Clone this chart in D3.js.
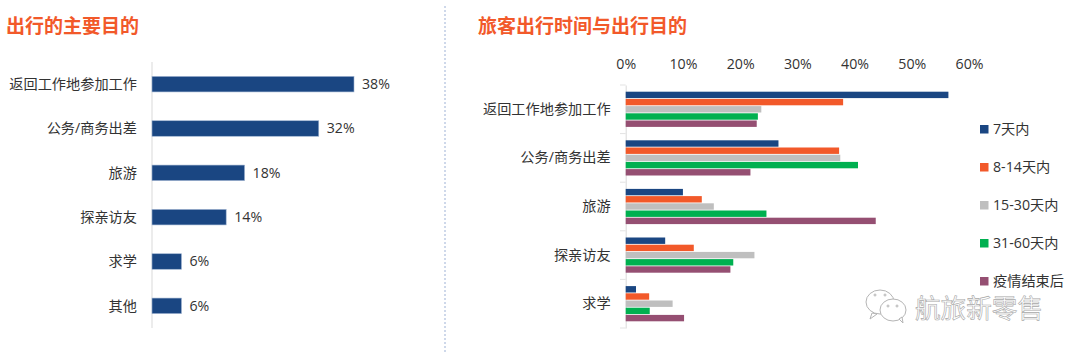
<!DOCTYPE html>
<html>
<head>
<meta charset="utf-8">
<script src="https://cdn.jsdelivr.net/npm/d3@7"></script>
<style>
  html, body { margin: 0; padding: 0; background: #fff; }
  svg { display: block; }
  text { font-family: "Open Sans", "Noto Sans CJK SC", sans-serif; fill: #333; }
  .title { font-family: "Noto Sans CJK SC", sans-serif; font-size: 19px; font-weight: 700; fill: #f2592a; }
  .label { font-size: 14.2px; }
</style>
</head>
<body>
<div id="container"></div>
<script>
'use strict';

const width = 1080, height = 355;

// left chart
const purposes = ["返回工作地参加工作", "公务/商务出差", "旅游", "探亲访友", "求学", "其他"];
const purposeShare = [38.4, 31.7, 17.6, 14.1, 5.6, 5.6];

// right chart
const groups = ["返回工作地参加工作", "公务/商务出差", "旅游", "探亲访友", "求学"];
const seriesNames = ["7天内", "8-14天内", "15-30天内", "31-60天内", "疫情结束后"];
const seriesColors = ["#1a4682", "#f2592a", "#bfbfbf", "#00b050", "#954f72"];
const within7 = [56.4, 26.7, 10.0, 6.9, 1.8];
const within14 = [38.0, 37.3, 13.3, 11.9, 4.1];
const within30 = [23.7, 37.5, 15.4, 22.5, 8.2];
const within60 = [23.1, 40.6, 24.6, 18.8, 4.2];
const afterEnd = [22.9, 21.8, 43.7, 18.3, 10.2];
const seriesValues = [within7, within14, within30, within60, afterEnd];
const xTicks = [0, 10, 20, 30, 40, 50, 60];

const svg = d3.select("#container")
  .append("svg")
  .attr("width", width)
  .attr("height", height);

svg.append("text").attr("class", "title").attr("x", 6).attr("y", 33).text("出行的主要目的");
svg.append("text").attr("class", "title").attr("x", 478).attr("y", 33).text("旅客出行时间与出行目的");

// separator
svg.append("line")
  .attr("x1", 445).attr("x2", 445)
  .attr("y1", 6).attr("y2", 352)
  .attr("stroke", "#aebfdc")
  .attr("stroke-width", 1.2)
  .attr("stroke-dasharray", "2 2");

/* ---- left chart ---- */
const xLeft = d3.scaleLinear().domain([0, 38.4]).range([152, 354]);
const yLeft = d3.scaleBand().domain(purposes).range([62, 328]).paddingInner(0.65).paddingOuter(0.325);

svg.append("line")
  .attr("x1", 152).attr("x2", 152)
  .attr("y1", 62).attr("y2", 328)
  .attr("stroke", "#d9d9d9");

svg.selectAll(".bar-left")
  .data(purposes)
  .join("rect")
  .attr("class", "bar-left")
  .attr("x", xLeft(0))
  .attr("y", d => yLeft(d))
  .attr("width", (d, i) => xLeft(purposeShare[i]) - xLeft(0))
  .attr("height", yLeft.bandwidth())
  .attr("fill", seriesColors[0])
  .attr("stroke", "#9db2d0")
  .attr("stroke-width", 0.6);

svg.selectAll(".cat-left")
  .data(purposes)
  .join("text")
  .attr("class", "label cat-left")
  .attr("x", 137)
  .attr("y", d => yLeft(d) + yLeft.bandwidth() / 2)
  .attr("dy", "0.35em")
  .attr("text-anchor", "end")
  .text(d => d);

svg.selectAll(".val-left")
  .data(purposes)
  .join("text")
  .attr("class", "label val-left")
  .attr("x", (d, i) => xLeft(purposeShare[i]) + 8)
  .attr("y", d => yLeft(d) + yLeft.bandwidth() / 2)
  .attr("dy", "0.35em")
  .text((d, i) => Math.round(purposeShare[i]) + "%");

/* ---- right chart ---- */
const xRight = d3.scaleLinear().domain([0, 60]).range([625.7, 969]);
const yRight = d3.scaleBand().domain(groups).range([85, 328]);
const ySeries = d3.scaleBand()
  .domain(seriesNames)
  .range([0, yRight.bandwidth()])
  .paddingOuter(0.875);

const xAxis = d3.axisTop(xRight)
  .tickValues(xTicks)
  .tickFormat(d => d + "%")
  .tickSize(0)
  .tickPadding(0);

const xAxisG = svg.append("g")
  .attr("transform", "translate(0, 69)")
  .call(xAxis);
xAxisG.select(".domain").remove();
xAxisG.selectAll("text")
  .attr("class", "label")
  .attr("fill", null);
xAxisG.attr("font-family", null).attr("font-size", null);

const yAxis = d3.axisLeft(yRight).tickSize(0).tickPadding(15);
const yAxisG = svg.append("g")
  .attr("transform", "translate(625.7, 0)")
  .call(yAxis);
yAxisG.select(".domain").attr("stroke", "#d9d9d9");
yAxisG.selectAll("text").attr("class", "label").attr("fill", null);
yAxisG.attr("font-family", null).attr("font-size", null);

// tick marks sit between the groups
svg.selectAll(".group-tick")
  .data(groups.concat("end"))
  .join("line")
  .attr("class", "group-tick")
  .attr("x1", 620).attr("x2", 625.7)
  .attr("y1", (d, i) => 85 + i * yRight.step())
  .attr("y2", (d, i) => 85 + i * yRight.step())
  .attr("stroke", "#e3e3e3");

svg.selectAll(".series")
  .data(seriesNames)
  .join("g")
  .attr("class", "series")
  .attr("fill", (d, i) => seriesColors[i])
  .each(function(name, s) {
    d3.select(this).selectAll("rect")
      .data(groups)
      .join("rect")
      .attr("x", xRight(0))
      .attr("y", g => yRight(g) + ySeries(name) + 0.4)
      .attr("width", (g, i) => xRight(seriesValues[s][i]) - xRight(0))
      .attr("height", ySeries.bandwidth() - 0.8);
  });

/* ---- legend ---- */
const legend = svg.selectAll(".legend")
  .data(seriesNames)
  .join("g")
  .attr("class", "legend")
  .attr("transform", (d, i) => `translate(980, ${129 + i * 38})`);

legend.append("rect")
  .attr("y", -4)
  .attr("width", 8.5)
  .attr("height", 8.5)
  .attr("fill", (d, i) => seriesColors[i]);

legend.append("text")
  .attr("class", "label")
  .attr("x", 13)
  .attr("dy", "0.35em")
  .text(d => d);

/* ---- watermark ---- */
const mark = svg.append("g").attr("fill", "#fff").attr("stroke", "#b5b5b5").attr("stroke-width", 1);
mark.append("ellipse").attr("cx", 880).attr("cy", 302).attr("rx", 14).attr("ry", 12);
mark.append("path").attr("d", "M872 313 L870 319 L877 314 Z");
mark.append("ellipse").attr("cx", 893).attr("cy", 310).attr("rx", 13).attr("ry", 11);
mark.append("path").attr("d", "M899 319 L903 323 L902 317 Z");
mark.selectAll(".eye")
  .data([[875, 295], [885, 295], [888, 306], [897, 306]])
  .join("circle")
  .attr("class", "eye")
  .attr("cx", d => d[0]).attr("cy", d => d[1]).attr("r", 1);

svg.append("text")
  .attr("x", 915)
  .attr("y", 318)
  .style("font-family", '"Noto Sans CJK SC", sans-serif')
  .style("font-size", "25.6px")
  .style("fill", "#fff")
  .style("stroke", "#a8a8a8")
  .style("stroke-width", 0.6)
  .text("航旅新零售");
</script>
</body>
</html>
